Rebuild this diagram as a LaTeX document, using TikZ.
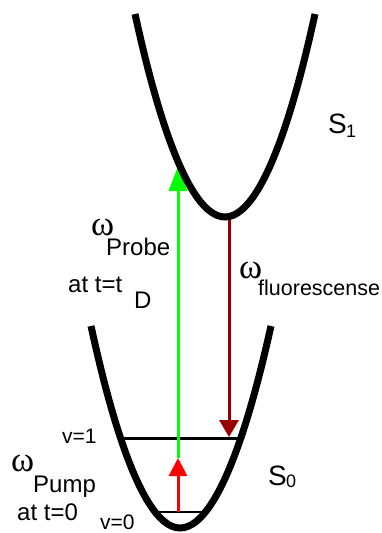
\documentclass[tikz,border=0pt]{standalone}
\usepackage{fontspec}
\setmainfont{Liberation Sans}
\newfontfamily\grk{Liberation Serif}
\usetikzlibrary{arrows.meta}
\definecolor{pumpred}{RGB}{255,0,0}
\definecolor{probegreen}{RGB}{0,255,0}
\definecolor{fluored}{RGB}{150,0,0}
\begin{document}
\begin{tikzpicture}[x=1pt,y=-1pt,
  curve/.style={line width=7pt},
  lbl/.style={inner sep=0pt, anchor=base west, font=\fontsize{24}{28}\selectfont},
  om/.style={inner sep=0pt, anchor=base west, font=\grk\fontsize{35}{38}\selectfont},
  big/.style={inner sep=0pt, anchor=base west, font=\fontsize{28}{32}\selectfont},
  small/.style={inner sep=0pt, anchor=base west, font=\fontsize{18}{20}\selectfont}]
\useasboundingbox (0,0) rectangle (382,533);
% levels and points
\coordinate (v1l) at (121,438);
\coordinate (v1r) at (239,438);
\coordinate (v0l) at (155,512);
\coordinate (v0r) at (205,512);
\coordinate (pumpfrom) at (178,512);
\coordinate (pumpto) at (178,458);
\coordinate (probeto) at (178,166);
\coordinate (fluofrom) at (229,218);
\coordinate (fluoto) at (229,437);
\draw[line width=3pt] (v1l) -- (v1r);
\draw[line width=2pt] (v0l) -- (v0r);
% transitions
\draw[pumpred, line width=3pt, -{Triangle[length=18pt,width=18pt]}] (pumpfrom) -- (pumpto);
\draw[probegreen, line width=3pt, -{Triangle[length=25pt,width=18pt]}] (pumpto) -- (probeto);
\draw[fluored, line width=3pt, -{Triangle[length=17pt,width=19pt]}] (fluofrom) -- (fluoto);
% potential curves
\draw[curve] (135,14) parabola bend (225,217) (315,14);
\draw[curve] (91,326) parabola bend (180,528) (271,326);
% labels
\node[big] (s1) at (328,133) {S};
\node[small] (s1sub) at (346,137) {1};
\node[big] (s0) at (268,485) {S};
\node[small] (s0sub) at (286,487) {0};
\node[lbl, font=\fontsize{21}{24}\selectfont] (v1) at (62,443) {v=1};
\node[lbl, font=\fontsize{21}{24}\selectfont] (v0) at (100,529) {v=0};
\node[om] (wpump) at (11,471) {ω};
\node[lbl] (pump) at (33,492) {Pump};
\node[lbl] (pumpt) at (17,520) {at t=0};
\node[om] (wprobe) at (91,235) {ω};
\node[lbl] (probe) at (106,255) {Probe};
\node[lbl] (probet) at (68,292) {at t=t};
\node[lbl] (probed) at (134,308) {D};
\node[om] (wfluo) at (239,278) {ω};
\node[lbl, font=\fontsize{21.5}{25}\selectfont] (fluo) at (258,295) {fluorescense};
\end{tikzpicture}
\end{document}
